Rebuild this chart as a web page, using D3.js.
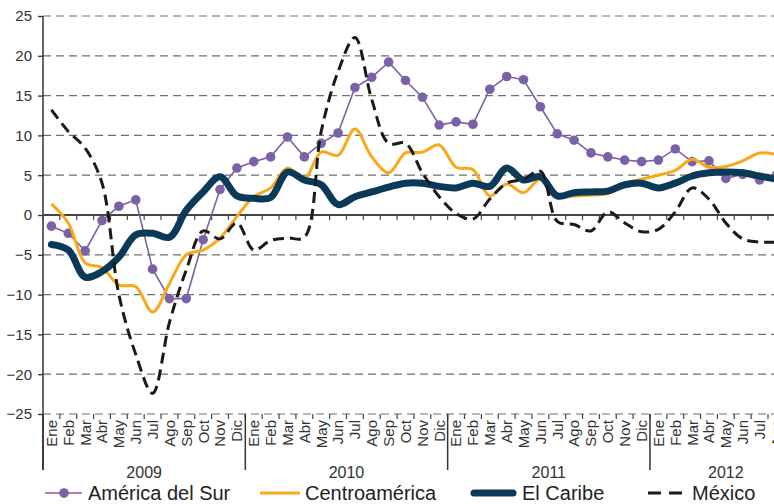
<!DOCTYPE html>
<html>
<head>
<meta charset="utf-8">
<script src="https://cdn.jsdelivr.net/npm/d3@7"></script>
<style>
  body { margin: 0; background: #fff; overflow: hidden; }
  svg { display: block; font-family: "Liberation Sans", Arial, sans-serif; }
</style>
</head>
<body>
<svg id="chart" width="774" height="504"></svg>
<script>
// Month labels and years (last year only partly shown)
const monthNames = ["Ene", "Feb", "Mar", "Abr", "May", "Jun", "Jul", "Ago", "Sep", "Oct", "Nov", "Dic"];
const years = ["2009", "2010", "2011", "2012"];
const monthsPerYear = [12, 12, 12, 9];
const yTicks = [25, 20, 15, 10, 5, 0, -5, -10, -15, -20, -25];

// Series values, Ene 2009 .. Ago 2012
const americaDelSur = [
  -1.4, -2.3, -4.5, -0.7, 1.1, 1.9, -6.8, -10.5, -10.5, -3.1, 3.2, 5.9,
  6.7, 7.3, 9.8, 7.3, 9.0, 10.3, 16.0, 17.3, 19.2, 16.9, 14.8, 11.3,
  11.7, 11.4, 15.8, 17.4, 17.0, 13.6, 10.2, 9.4, 7.8, 7.3, 6.9, 6.7,
  6.9, 8.3, 6.7, 6.8, 4.6, 5.1, 4.4, 5.0
];
const centroamerica = [
  1.4, -1.0, -6.0, -6.6, -8.8, -9.0, -12.2, -8.6, -5.0, -4.4, -2.9, -0.2,
  2.3, 3.4, 5.9, 4.6, 7.9, 7.5, 10.8, 7.3, 5.3, 7.8, 7.9, 8.8,
  6.0, 5.7, 2.4, 3.9, 2.8, 4.5, 2.6, 2.4, 2.5, 2.7, 3.9, 4.5,
  5.0, 5.6, 7.0, 6.0, 6.1, 6.8, 7.8, 7.6
];
const elCaribe = [
  -3.7, -4.4, -7.8, -7.1, -5.3, -2.5, -2.3, -2.8, 0.6, 2.9, 4.8, 2.4,
  2.1, 2.2, 5.4, 4.4, 3.8, 1.3, 2.3, 2.9, 3.5, 4.0, 4.0, 3.6,
  3.4, 4.0, 3.6, 5.9, 4.4, 4.8, 2.4, 2.8, 2.9, 3.0, 3.8, 4.0,
  3.4, 4.0, 4.9, 5.3, 5.4, 5.3, 4.9, 4.5
];
const mexico = [
  13.2, 10.5, 8.4, 4.0, -10.0, -17.5, -22.4, -13.5, -6.9, -2.0, -3.0, -1.0,
  -4.4, -3.2, -2.9, -2.8, 10.5, 18.0, 22.3, 14.5, 9.0, 9.0, 5.3, 2.3,
  0.2, -0.5, 2.0, 4.0, 4.5, 5.5, -0.8, -1.2, -2.0, 0.4, -1.0, -2.1,
  -1.8, 0.4, 3.4, 2.0, -1.0, -3.0, -3.4, -3.4
];

// Build the month categories
const categories = [];
years.forEach((yr, yi) => {
  for (let m = 0; m < monthsPerYear[yi]; m++) categories.push({ year: yr, month: monthNames[m] });
});

const svg = d3.select("#chart");
const plotLeft = 43, plotTop = 16, plotBottom = 414, plotRight = 774;
const step = 16.86;

const x = d3.scaleBand()
  .domain(d3.range(categories.length))
  .range([plotLeft, plotLeft + categories.length * step]);
const y = d3.scaleLinear().domain([-25, 25]).range([plotBottom, plotTop]);
const cx = i => x(i) + x.bandwidth() / 2;

// Dashed gridlines
svg.append("g")
  .selectAll("line")
  .data(yTicks.filter(d => d !== 0))
  .join("line")
  .attr("x1", plotLeft).attr("x2", plotRight)
  .attr("y1", d => y(d)).attr("y2", d => y(d))
  .attr("stroke", "#6f6f6f")
  .attr("stroke-width", 1.2)
  .attr("stroke-dasharray", "8,5");

// Y axis
const yAxis = svg.append("g")
  .attr("transform", `translate(${plotLeft},0)`)
  .call(d3.axisLeft(y).tickValues(yTicks).tickSize(5).tickPadding(6));
yAxis.select(".domain").remove();
yAxis.selectAll(".tick line").attr("stroke", "#333").attr("stroke-width", 1.3);
yAxis.selectAll(".tick text").attr("font-size", 15).attr("fill", "#333").attr("font-family", "Liberation Sans, Arial, sans-serif");
svg.append("line")
  .attr("x1", plotLeft).attr("x2", plotLeft).attr("y1", plotTop).attr("y2", 470)
  .attr("stroke", "#333").attr("stroke-width", 1.5);

// Zero line with month ticks
svg.append("line")
  .attr("x1", plotLeft).attr("x2", plotRight).attr("y1", y(0)).attr("y2", y(0))
  .attr("stroke", "#444").attr("stroke-width", 2);
const bounds = d3.range(categories.length + 1).map(i => plotLeft + i * step);
svg.append("g").selectAll("line").data(bounds).join("line")
  .attr("x1", d => d).attr("x2", d => d)
  .attr("y1", y(0)).attr("y2", y(0) + 5)
  .attr("stroke", "#444").attr("stroke-width", 1.2);

// Bottom month ticks
svg.append("g").selectAll("line").data(bounds).join("line")
  .attr("x1", d => d).attr("x2", d => d)
  .attr("y1", plotBottom).attr("y2", plotBottom + 5)
  .attr("stroke", "#444").attr("stroke-width", 1.2);

// Year separators
let acc = 0;
const yearStarts = monthsPerYear.map(n => { const s = acc; acc += n; return s; });
svg.append("g").selectAll("line").data(yearStarts).join("line")
  .attr("x1", d => x(d)).attr("x2", d => x(d))
  .attr("y1", plotBottom).attr("y2", 470)
  .attr("stroke", "#333").attr("stroke-width", 1.5);

// Month labels
const xAxis = svg.append("g")
  .attr("transform", `translate(0,${plotBottom})`)
  .call(d3.axisBottom(x).tickSize(0).tickFormat(i => categories[i].month));
xAxis.select(".domain").remove();
xAxis.selectAll(".tick text")
  .attr("font-size", 15)
  .attr("fill", "#333")
  .attr("font-family", "Liberation Sans, Arial, sans-serif")
  .attr("text-anchor", "end")
  .attr("transform", "rotate(-90)")
  .attr("x", -6)
  .attr("y", 0)
  .attr("dy", "0.36em");

// Year labels
svg.append("g").selectAll("text").data(years).join("text")
  .attr("x", (d, i) => (x(yearStarts[i]) + x(yearStarts[i] + monthsPerYear[i] - 1) + x.bandwidth()) / 2)
  .attr("y", 478)
  .attr("text-anchor", "middle")
  .attr("font-size", 16)
  .attr("fill", "#333")
  .text(d => d);

// Series
const plot = svg.append("g");
const smooth = d3.line().x((d, i) => cx(i)).y(d => y(d)).curve(d3.curveCatmullRom.alpha(0.5));
const straight = d3.line().x((d, i) => cx(i)).y(d => y(d));

const purple = "#7b62a6", orange = "#f9a81b", navy = "#0b3a58", black = "#1a1a1a";

plot.append("path").datum(americaDelSur).attr("d", straight)
  .attr("fill", "none").attr("stroke", purple).attr("stroke-width", 1.6);
plot.append("g").selectAll("circle").data(americaDelSur).join("circle")
  .attr("cx", (d, i) => cx(i)).attr("cy", d => y(d)).attr("r", 4.8)
  .attr("fill", purple);

plot.append("path").datum(centroamerica).attr("d", smooth)
  .attr("fill", "none").attr("stroke", orange).attr("stroke-width", 3);

plot.append("path").datum(elCaribe).attr("d", smooth)
  .attr("fill", "none").attr("stroke", navy).attr("stroke-width", 7)
  .attr("stroke-linejoin", "round").attr("stroke-linecap", "round");

plot.append("path").datum(mexico).attr("d", smooth)
  .attr("fill", "none").attr("stroke", black).attr("stroke-width", 3)
  .attr("stroke-dasharray", "11,6");

// Legend
const ly = 493;
const legend = svg.append("g").attr("font-size", 20).attr("fill", "#222");
legend.append("line").attr("x1", 45).attr("x2", 82).attr("y1", ly).attr("y2", ly)
  .attr("stroke", purple).attr("stroke-width", 1.6);
legend.append("circle").attr("cx", 64).attr("cy", ly).attr("r", 4.8).attr("fill", purple);
legend.append("text").attr("x", 88).attr("y", ly + 7).text("América del Sur");

legend.append("line").attr("x1", 260).attr("x2", 300).attr("y1", ly).attr("y2", ly)
  .attr("stroke", orange).attr("stroke-width", 3);
legend.append("text").attr("x", 305).attr("y", ly + 7).text("Centroamérica");

legend.append("line").attr("x1", 474).attr("x2", 513).attr("y1", ly).attr("y2", ly)
  .attr("stroke", navy).attr("stroke-width", 7).attr("stroke-linecap", "round");
legend.append("text").attr("x", 522).attr("y", ly + 7).text("El Caribe");

legend.append("line").attr("x1", 648).attr("x2", 683).attr("y1", ly).attr("y2", ly)
  .attr("stroke", black).attr("stroke-width", 3).attr("stroke-dasharray", "13,8");
legend.append("text").attr("x", 692).attr("y", ly + 7).text("México");
</script>
</body>
</html>
